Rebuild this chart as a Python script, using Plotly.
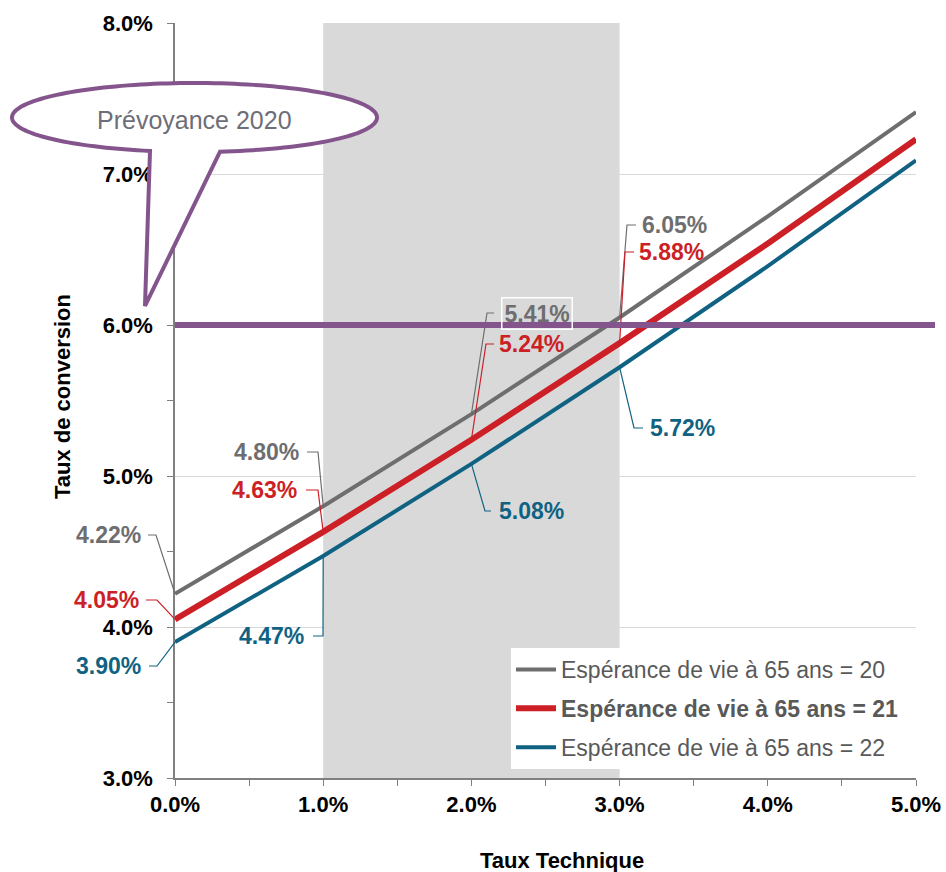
import numpy as np
import plotly.graph_objects as go

# ---------------- data ----------------
taux_technique = [0, 1, 2, 3, 4, 5]  # %
series_names = [
    "Espérance de vie à 65 ans = 20",
    "<b>Espérance de vie à 65 ans = 21</b>",
    "Espérance de vie à 65 ans = 22",
]
esp_20 = [4.22, 4.80, 5.41, 6.05, 6.72, 7.41]
esp_21 = [4.05, 4.63, 5.24, 5.88, 6.54, 7.23]
esp_22 = [3.90, 4.47, 5.08, 5.72, 6.39, 7.09]
zone_taux = [1, 3]          # shaded band on x
seuil_prevoyance = 6.0      # horizontal threshold
callout_text = "Prévoyance 2020"

colors = ["#6E6E70", "#CC1F26", "#106282"]
widths = [4, 6, 4]
values = [esp_20, esp_21, esp_22]

# ---------------- geometry helpers ----------------
W, H = 946, 872
L, R, T, B = 175, 916, 23, 778
XMIN, XMAX, YMIN, YMAX = 0, 5, 3, 8


def ppx(px):
    return (px - L) / (R - L)


def ppy(py):
    return (B - py) / (B - T)


def data_to_paper_x(x):
    return (x - XMIN) / (XMAX - XMIN)


def data_to_paper_y(y):
    return (y - YMIN) / (YMAX - YMIN)


FONT = "Liberation Sans, Arial, sans-serif"

fig = go.Figure()
for name, vals, c, w in zip(series_names, values, colors, widths):
    fig.add_trace(go.Scatter(
        x=taux_technique, y=vals, mode="lines", name=name,
        line=dict(color=c, width=w), legendgroup=name,
        hoverinfo="skip",
    ))

shapes = []
# shaded band
shapes.append(dict(type="rect", xref="x", yref="y", x0=zone_taux[0], x1=zone_taux[1],
                   y0=YMIN, y1=YMAX, fillcolor="#D9D9D9", line=dict(width=0),
                   layer="between"))

# data labels with elbow leaders
# (series, x index, anchor, text px x, text px y, leader start px, elbow px)
label_spec = [
    (0, 0, "right", 143, 535, 148, 156),
    (0, 1, "right", 301, 452, 307, 318),
    (0, 2, "left", 500, 313, 494, 487),
    (0, 3, "left", 640, 225, 636, 627),
    (1, 0, "right", 141, 600, 146, 157),
    (1, 1, "right", 299, 490, 306, 318),
    (1, 2, "left", 497, 344, 494, 486),
    (1, 3, "left", 637, 252, 634, 625),
    (2, 0, "right", 143, 666, 149, 157),
    (2, 1, "right", 306, 636, 313, 323),
    (2, 2, "left", 497, 511, 491, 485),
    (2, 3, "left", 648, 428, 643, 634),
]
annotations = []
for s, i, anc, tx, ty, lx, ex in label_spec:
    xv = taux_technique[i]
    yv = values[s][i]
    ann = dict(x=ppx(tx), y=ppy(ty), xref="paper", yref="paper", text=f"{yv:.2f}%",
               showarrow=False, xanchor=anc, yanchor="middle",
               font=dict(family=FONT, size=23, color=colors[s], weight="bold"))
    if s == 0 and i == 2:
        ann.update(bordercolor="white", borderwidth=1.5, borderpad=2, x=ppx(tx + 1))
    annotations.append(ann)
    shapes.append(dict(type="path", xref="paper", yref="paper",
                       path=(f"M {ppx(lx)},{ppy(ty)} L {ppx(ex)},{ppy(ty)} "
                             f"L {data_to_paper_x(xv)},{data_to_paper_y(yv)}"),
                       line=dict(color=colors[s], width=1.2), layer="above"))

# threshold line
shapes.append(dict(type="line", xref="paper", yref="y", x0=0, x1=ppx(935),
                   y0=seuil_prevoyance, y1=seuil_prevoyance,
                   line=dict(color="#84548C", width=6), layer="above"))

# callout bubble
cx, cy, rx, ry = 194.5, 117.5, 182.5, 34.5
t_start = np.arccos((150 - cx) / rx)
t_end = np.arccos((220 - cx) / rx) + 2 * np.pi
ts = np.linspace(t_start, t_end, 160)
pts = [(cx + rx * np.cos(t), cy + ry * np.sin(t)) for t in ts]
pts.append((145, 306))
path = "M " + " L ".join(f"{ppx(px):.5f},{ppy(py):.5f}" for px, py in pts) + " Z"
shapes.append(dict(type="path", xref="paper", yref="paper", path=path,
                   fillcolor="white", line=dict(color="#84548C", width=4),
                   layer="above"))
annotations.append(dict(x=ppx(194), y=ppy(120), xref="paper", yref="paper",
                        xanchor="center", yanchor="middle",
                        text=callout_text, showarrow=False,
                        font=dict(family=FONT, size=25, color="#6E6E78")))

# axis titles
annotations.append(dict(x=ppx(62), y=ppy(397), xref="paper", yref="paper",
                        xanchor="center", yanchor="middle",
                        text="Taux de conversion", textangle=-90, showarrow=False,
                        font=dict(family=FONT, size=22, color="black", weight="bold")))
annotations.append(dict(x=ppx(562), y=ppy(860), xref="paper", yref="paper",
                        xanchor="center", yanchor="middle",
                        text="Taux Technique", showarrow=False,
                        font=dict(family=FONT, size=22, color="black", weight="bold")))

fig.update_layout(
    width=W, height=H,
    margin=dict(l=L, r=W - R, t=T, b=H - B, autoexpand=False),
    paper_bgcolor="white", plot_bgcolor="white",
    shapes=shapes, annotations=annotations,
    showlegend=True,
    legend=dict(x=ppx(511), y=ppy(648), xanchor="left", yanchor="top",
                bgcolor="white", borderwidth=0, tracegroupgap=6, itemwidth=40,
                font=dict(family=FONT, size=23, color="#595959")),
    xaxis=dict(range=[XMIN, XMAX], dtick=1, tickformat=".1f", ticksuffix="%",
               showgrid=False, zeroline=False, showline=True, linecolor="#808080",
               linewidth=1.5, ticks="outside", ticklen=6, tickcolor="#808080",
               minor=dict(dtick=0.5, ticks="outside", ticklen=6, tickcolor="#808080"),
               tickfont=dict(family=FONT, size=22, color="black", weight="bold"),
               fixedrange=True),
    yaxis=dict(range=[YMIN, YMAX], dtick=1, tickformat=".1f", ticksuffix="%",
               showgrid=True, gridcolor="#D9D9D9", gridwidth=1, zeroline=False,
               showline=True, linecolor="#808080", linewidth=1.5,
               ticks="outside", ticklen=6, tickcolor="#808080",
               minor=dict(dtick=0.5, ticks="outside", ticklen=6, tickcolor="#808080"),
               tickfont=dict(family=FONT, size=22, color="black", weight="bold"),
               ticklabelstandoff=10, fixedrange=True),
)

fig.write_html("out.html")
